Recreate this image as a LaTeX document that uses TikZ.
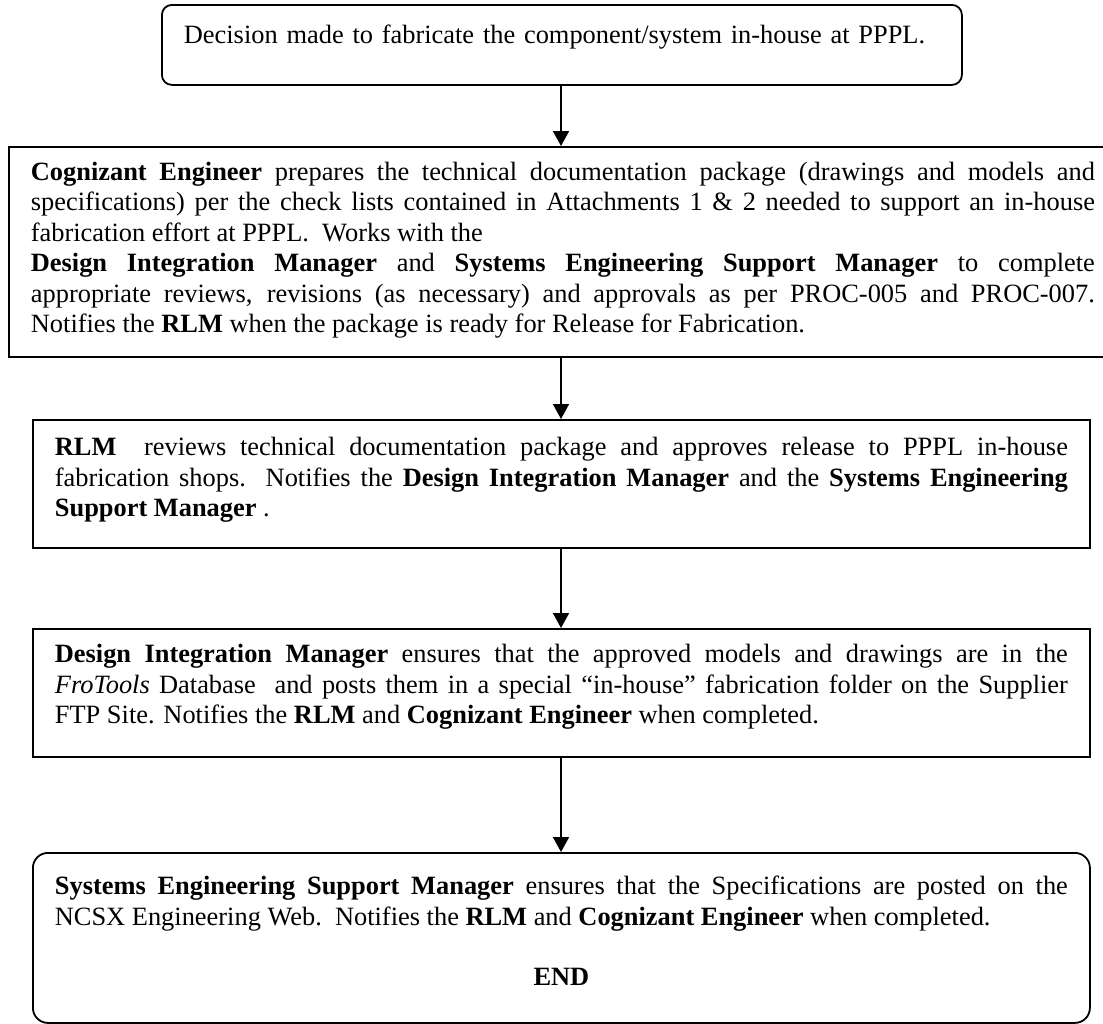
\documentclass[tikz,border=0pt]{standalone}
\usepackage{fontspec}
\setmainfont{Liberation Serif}
\usetikzlibrary{arrows.meta}
\setlength{\parindent}{0pt}
\newcommand{\dropby}[1]{\rule[-#1]{0pt}{#1}}
\begin{document}
\begin{tikzpicture}[x=1pt,y=-1pt,
  box/.style={draw, line width=1.8pt, inner xsep=22pt, inner ysep=0pt,
    anchor=north west, align=justify,
    font=\fontsize{26.4}{30.4}\selectfont},
  flow/.style={line width=1.8pt, -{Triangle[width=16pt,length=15pt]}}]
\clip (0,0) rectangle (1103,1023);
\node[box, rounded corners=10pt, align=left, minimum width=800pt, minimum height=80pt, text width=756pt] (b1) at (161,4)
  {\rule{0pt}{27pt}Decision made to fabricate the component/system in-house at PPPL.\\\mbox{}};
\node[box, minimum width=1108pt, minimum height=210pt, text width=1064pt] (b2) at (8,146)
  {{\bfseries Cognizant Engineer} prepares the technical documentation package (drawings and models and\linebreak
   specifications) per the check lists contained in Attachments 1 \& 2 needed to support an in-house\linebreak
   fabrication effort at PPPL.\ \ Works with the\par
   {\bfseries Design Integration Manager} and {\bfseries Systems Engineering Support Manager} to complete\linebreak
   appropriate reviews, revisions (as necessary) and approvals as per PROC-005 and PROC-007.\linebreak
   Notifies the {\bfseries RLM} when the package is ready for Release for Fabrication.\dropby{9pt}};
\node[box, minimum width=1057pt, minimum height=128pt, text width=1013pt] (b3) at (32,419)
  {{\bfseries RLM}\ \ reviews technical documentation package and approves release to PPPL in-house\linebreak
   fabrication shops.\ \ Notifies the {\bfseries Design Integration Manager} and the {\bfseries Systems Engineering}\linebreak
   {\bfseries Support Manager} .\dropby{14pt}};
\node[box, minimum width=1057pt, minimum height=128pt, text width=1013pt] (b4) at (32,628)
  {{\bfseries Design Integration Manager} ensures that the approved models and drawings are in the\linebreak
   \textit{FroTools} Database\ \ and posts them in a special “in-house” fabrication folder on the Supplier\linebreak
   FTP Site. Notifies the {\bfseries RLM} and {\bfseries Cognizant Engineer} when completed.\dropby{18pt}};
\node[box, rounded corners=15pt, minimum width=1057pt, minimum height=170pt, text width=1013pt] (b5) at (32,852)
  {{\bfseries Systems Engineering Support Manager} ensures that the Specifications are posted on the\linebreak
   NCSX Engineering Web.\ \ Notifies the {\bfseries RLM} and {\bfseries Cognizant Engineer} when completed.\par
   \mbox{}\par
   {\centering\bfseries END\dropby{14pt}\par}};
\coordinate (ax) at (561,0);
\draw[flow] (ax |- b1.south) -- (ax |- b2.north);
\draw[flow] (ax |- b2.south) -- (ax |- b3.north);
\draw[flow] (ax |- b3.south) -- (ax |- b4.north);
\draw[flow] (ax |- b4.south) -- (ax |- b5.north);
\end{tikzpicture}
\end{document}
